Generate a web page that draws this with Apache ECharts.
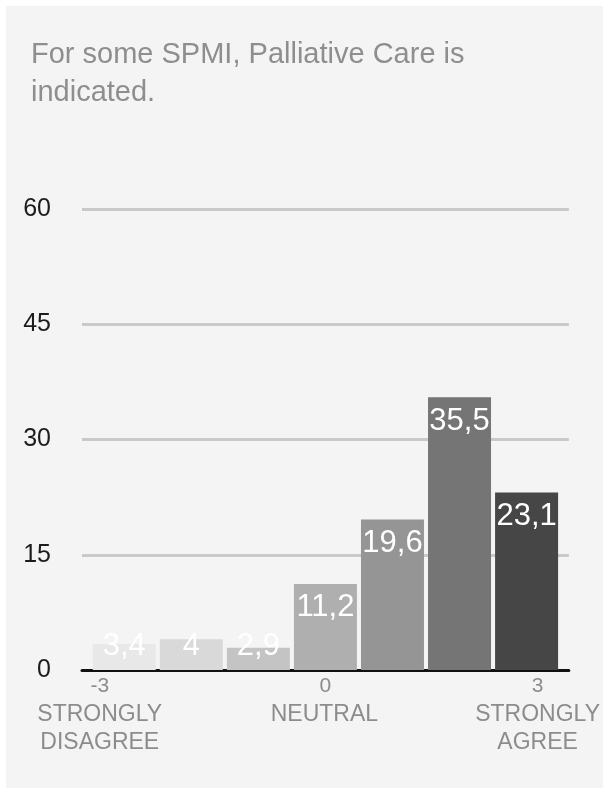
<!DOCTYPE html>
<html>
<head>
<meta charset="utf-8">
<title>For some SPMI, Palliative Care is indicated.</title>
<script src="https://cdn.jsdelivr.net/npm/echarts@6.0.0/dist/echarts.min.js"></script>
<style>
  html, body { margin: 0; padding: 0; background: #ffffff; }
  #panel { position: absolute; left: 6px; top: 6px; width: 597px; height: 782px; background: #f4f4f4; }
  #chart { position: absolute; left: 0; top: 0; width: 603px; height: 788px; }
</style>
</head>
<body>
<div id="panel"></div>
<div id="chart"></div>
<script>
// Agreement scale from -3 (strongly disagree) to 3 (strongly agree)
const scalePoints = [-3, -2, -1, 0, 1, 2, 3];
// Share of respondents per scale point (%)
const shares = [3.4, 4, 2.9, 11.2, 19.6, 35.5, 23.1];
// Labelled points on the scale and their captions
const tickValues = [-3, 0, 3];
const tickCaptions = { '-3': ['STRONGLY', 'DISAGREE'], '0': ['NEUTRAL'], '3': ['STRONGLY', 'AGREE'] };
// Value-axis ticks
const yTicks = [0, 15, 30, 45, 60];

const barShades = ['#e8e8e8', '#d9d9d9', '#c4c4c4', '#afafaf', '#959595', '#757575', '#464646'];
const FONT = '"Liberation Sans", Arial, Helvetica, sans-serif';
// Bars shorter than this keep their value label anchored to the baseline
const SHORT_BAR = 6;

const fmt = v => String(v).replace('.', ',');

const chart = echarts.init(document.getElementById('chart'), null, { renderer: 'canvas' });

const tickStyle = (size, lh, pad) => ({
  fontSize: size, lineHeight: lh, color: '#8c8c8c', align: 'center', padding: pad, fontFamily: FONT
});

chart.setOption({
  backgroundColor: 'transparent',
  animation: false,
  textStyle: { fontFamily: FONT },
  title: {
    text: 'For some SPMI, Palliative Care is\nindicated.',
    left: 31,
    top: 36,
    padding: 0,
    textStyle: { color: '#8e8e8e', fontSize: 29, fontWeight: 'normal', lineHeight: 38, fontFamily: FONT }
  },
  grid: { left: 82, top: 209, width: 489, height: 461, containLabel: false },
  xAxis: {
    type: 'value',
    min: -3.63,
    max: 3.63,
    splitLine: { show: false },
    axisTick: { show: false },
    axisLine: { show: true, lineStyle: { color: '#111111', width: 3 } },
    axisLabel: {
      customValues: tickValues,
      margin: 2,
      formatter: function (v) {
        const key = String(Math.round(v));
        const side = key === '-3' ? 'L' : (key === '3' ? 'R' : 'C');
        const lines = ['{n' + side + '|' + key + '}'];
        (tickCaptions[key] || []).forEach(t => lines.push('{t' + side + '|' + t + '}'));
        return lines.join('\n');
      },
      rich: {
        nL: tickStyle(21, 29, [0, 49, 0, 0]),
        tL: tickStyle(23, 28, [0, 49, 0, 0]),
        nC: tickStyle(21, 29, [0, 0, 0, 0]),
        tC: tickStyle(23, 28, [0, 2, 0, 0]),
        nR: tickStyle(21, 29, [0, 0, 0, 22]),
        tR: tickStyle(23, 28, [0, 0, 0, 22])
      }
    }
  },
  yAxis: {
    type: 'value',
    min: yTicks[0],
    max: yTicks[yTicks.length - 1],
    interval: yTicks[1] - yTicks[0],
    axisLine: { show: false },
    axisTick: { show: false },
    splitLine: { show: true, lineStyle: { color: '#c9c9c9', width: 3 } },
    axisLabel: { color: '#1c1c1c', fontSize: 25, margin: 31, fontFamily: FONT }
  },
  series: [{
    type: 'bar',
    barWidth: 63,
    data: scalePoints.map((x, i) => ({
      value: [x, shares[i]],
      itemStyle: { color: barShades[i] },
      label: { position: shares[i] < SHORT_BAR ? 'insideBottom' : 'insideTop' }
    })),
    label: {
      show: true,
      distance: 9,
      color: '#ffffff',
      fontSize: 31,
      lineHeight: 30,
      fontFamily: FONT,
      formatter: p => fmt(p.value[1])
    }
  }]
});
</script>
</body>
</html>
